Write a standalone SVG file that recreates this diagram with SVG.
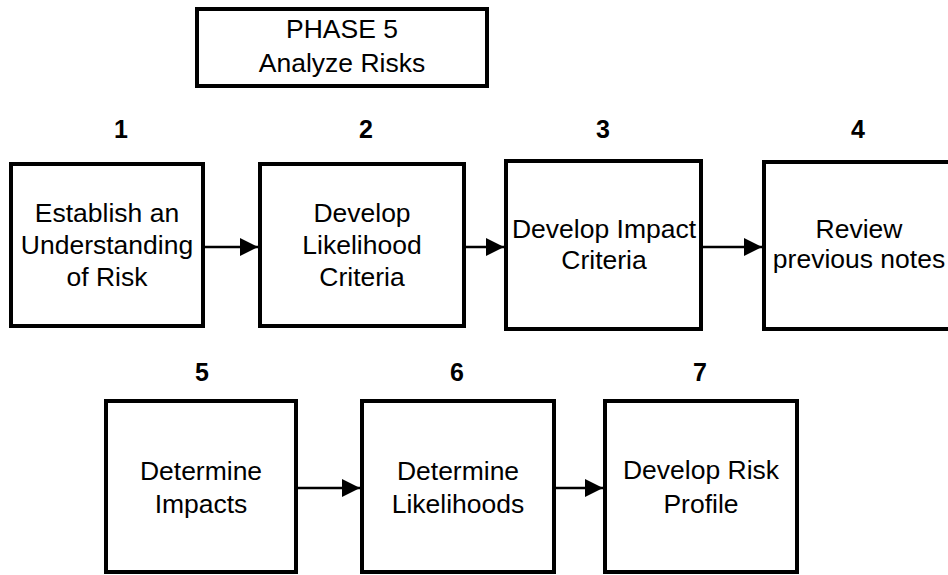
<svg xmlns="http://www.w3.org/2000/svg" width="948" height="575" viewBox="0 0 948 575">
  <defs>
    <marker id="arrow" viewBox="0 0 18 18" refX="18" refY="9" markerWidth="18" markerHeight="18" markerUnits="userSpaceOnUse" orient="auto">
      <path d="M0,0 L18,9 L0,18 Z" fill="#000"/>
    </marker>
  </defs>
  <style>
    .box { fill: #fff; stroke: #000; stroke-width: 4; }
    .lbl { font-family: "Liberation Sans", Arial, sans-serif; font-size: 25px; fill: #000; text-anchor: middle; }
    .num { font-family: "Liberation Sans", Arial, sans-serif; font-size: 25px; font-weight: bold; fill: #000; text-anchor: middle; }
    .conn { stroke: #000; stroke-width: 2.5; fill: none; }
  </style>
  <rect width="948" height="575" fill="#fff"/>

  <g id="title">
    <rect class="box" x="197" y="9" width="290" height="77"/>
    <text class="lbl" transform="translate(342 38) scale(1.06 1)">PHASE 5</text>
    <text class="lbl" transform="translate(342 72) scale(1.06 1)">Analyze Risks</text>
  </g>

  <g id="step1">
    <text class="num" x="121" y="138">1</text>
    <rect class="box" x="11" y="164" width="192" height="162"/>
    <text class="lbl" transform="translate(107 222) scale(1.06 1)">Establish an</text>
    <text class="lbl" transform="translate(107 254) scale(1.06 1)">Understanding</text>
    <text class="lbl" transform="translate(107 286) scale(1.06 1)">of Risk</text>
  </g>

  <g id="step2">
    <text class="num" x="366" y="138">2</text>
    <rect class="box" x="260" y="164" width="204" height="162"/>
    <text class="lbl" transform="translate(362 222) scale(1.06 1)">Develop</text>
    <text class="lbl" transform="translate(362 254) scale(1.06 1)">Likelihood</text>
    <text class="lbl" transform="translate(362 286) scale(1.06 1)">Criteria</text>
  </g>

  <g id="step3">
    <text class="num" x="603" y="138">3</text>
    <rect class="box" x="506" y="161" width="195" height="168"/>
    <text class="lbl" transform="translate(604 238) scale(1.06 1)">Develop Impact</text>
    <text class="lbl" transform="translate(604 269) scale(1.06 1)">Criteria</text>
  </g>

  <g id="step4">
    <text class="num" x="858" y="138">4</text>
    <rect class="box" x="764" y="162" width="200" height="167"/>
    <text class="lbl" transform="translate(859 238) scale(1.06 1)">Review</text>
    <text class="lbl" transform="translate(859 268) scale(1.06 1)">previous notes</text>
  </g>

  <g id="step5">
    <text class="num" x="202" y="381">5</text>
    <rect class="box" x="106" y="401" width="190" height="171"/>
    <text class="lbl" transform="translate(201 480) scale(1.06 1)">Determine</text>
    <text class="lbl" transform="translate(201 513) scale(1.06 1)">Impacts</text>
  </g>

  <g id="step6">
    <text class="num" x="457" y="381">6</text>
    <rect class="box" x="362" y="401" width="192" height="171"/>
    <text class="lbl" transform="translate(458 480) scale(1.06 1)">Determine</text>
    <text class="lbl" transform="translate(458 513) scale(1.06 1)">Likelihoods</text>
  </g>

  <g id="step7">
    <text class="num" x="700" y="381">7</text>
    <rect class="box" x="605" y="401" width="192" height="171"/>
    <text class="lbl" transform="translate(701 479) scale(1.06 1)">Develop Risk</text>
    <text class="lbl" transform="translate(701 513) scale(1.06 1)">Profile</text>
  </g>

  <g id="connectors">
    <line class="conn" x1="205" y1="247" x2="258" y2="247" marker-end="url(#arrow)"/>
    <line class="conn" x1="466" y1="247" x2="504" y2="247" marker-end="url(#arrow)"/>
    <line class="conn" x1="703" y1="247" x2="762" y2="247" marker-end="url(#arrow)"/>
    <line class="conn" x1="298" y1="488" x2="360" y2="488" marker-end="url(#arrow)"/>
    <line class="conn" x1="556" y1="488" x2="603" y2="488" marker-end="url(#arrow)"/>
  </g>
</svg>
